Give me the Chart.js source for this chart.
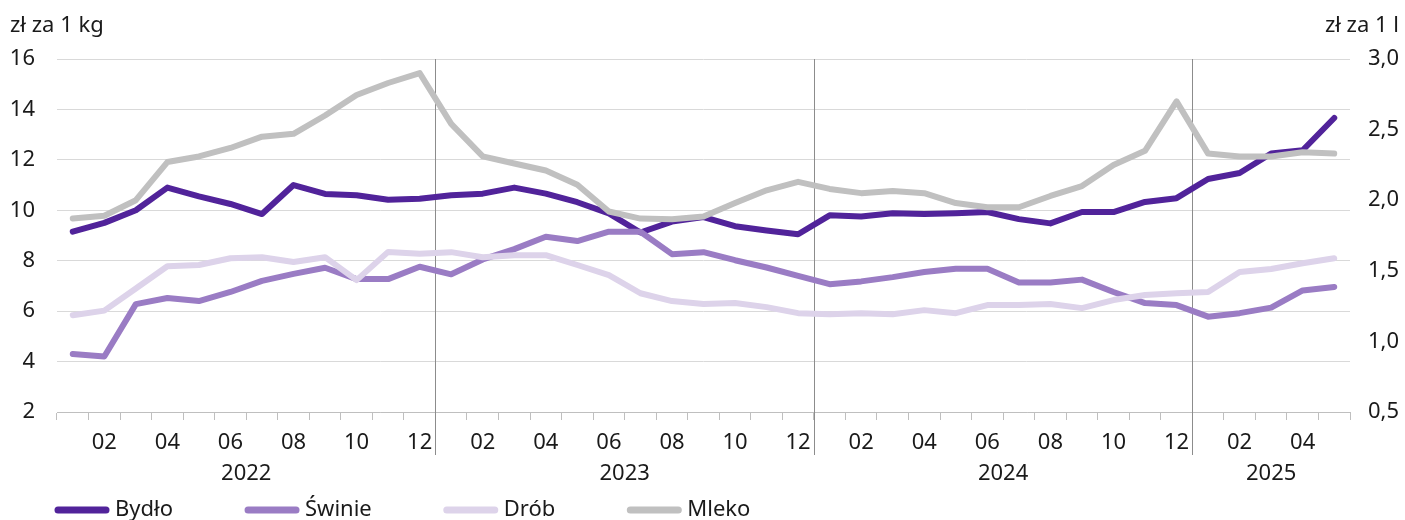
<!DOCTYPE html>
<html>
<head>
<meta charset="utf-8">
<script src="https://cdn.jsdelivr.net/npm/chart.js@4.4.1/dist/chart.umd.min.js"></script>
<style>
  html, body { margin: 0; padding: 0; background: #fff; overflow: hidden; }
  #wrap { position: relative; width: 1405px; height: 520px; }
</style>
</head>
<body>
<div id="wrap"><canvas id="chart"></canvas></div>
<script>
// miesiące 2022-01 .. 2025-05
const periods = [
    '2022-01', '2022-02', '2022-03', '2022-04', '2022-05', '2022-06', '2022-07', '2022-08', '2022-09', '2022-10', '2022-11', '2022-12',
    '2023-01', '2023-02', '2023-03', '2023-04', '2023-05', '2023-06', '2023-07', '2023-08', '2023-09', '2023-10', '2023-11', '2023-12',
    '2024-01', '2024-02', '2024-03', '2024-04', '2024-05', '2024-06', '2024-07', '2024-08', '2024-09', '2024-10', '2024-11', '2024-12',
    '2025-01', '2025-02', '2025-03', '2025-04', '2025-05'
];
const years = ['2022', '2023', '2024', '2025'];

// zł za 1 kg (lewa oś)
const bydlo = [9.15, 9.5, 10.0, 10.9, 10.55, 10.25, 9.85, 11.0, 10.65, 10.6, 10.42, 10.46,
    10.6, 10.66, 10.9, 10.66, 10.32, 9.88, 9.12, 9.55, 9.73, 9.37, 9.2, 9.05,
    9.8, 9.75, 9.88, 9.85, 9.88, 9.93, 9.65, 9.48, 9.93, 9.93, 10.33, 10.48,
    11.24, 11.48, 12.25, 12.38, 13.66];
const swinie = [4.3, 4.2, 6.28, 6.52, 6.4, 6.76, 7.2, 7.48, 7.72, 7.27, 7.27, 7.76,
    7.46, 8.05, 8.46, 8.95, 8.78, 9.15, 9.15, 8.26, 8.34, 8.02, 7.73, 7.4,
    7.07, 7.18, 7.35, 7.55, 7.68, 7.68, 7.14, 7.14, 7.25, 6.76, 6.32, 6.24,
    5.78, 5.92, 6.14, 6.82, 6.96];
const drob = [5.84, 6.02, 6.9, 7.78, 7.83, 8.1, 8.14, 7.95, 8.14, 7.23, 8.35, 8.28,
    8.34, 8.14, 8.22, 8.22, 7.83, 7.43, 6.71, 6.4, 6.28, 6.32, 6.16, 5.92,
    5.88, 5.92, 5.88, 6.04, 5.92, 6.24, 6.24, 6.28, 6.12, 6.44, 6.64, 6.71,
    6.76, 7.55, 7.67, 7.9, 8.1];
// zł za 1 l (prawa oś)
const mleko = [1.87, 1.89, 2.0, 2.27, 2.31, 2.37, 2.45, 2.47, 2.6, 2.745, 2.83, 2.9,
    2.54, 2.31, 2.26, 2.21, 2.11, 1.92, 1.87, 1.865, 1.885, 1.98, 2.07, 2.13,
    2.08, 2.05, 2.065, 2.05, 1.98, 1.95, 1.95, 2.03, 2.1, 2.25, 2.35, 2.7,
    2.33, 2.31, 2.31, 2.34, 2.33];

const FONT = '"Noto Sans", sans-serif';
const TEXT = '#1a1a1a';

function line (label, data, color, order, axis) {
    return {
        label: label,
        data: data,
        borderColor: color,
        backgroundColor: color,
        borderWidth: 6,
        borderCapStyle: 'round',
        borderJoinStyle: 'round',
        pointRadius: 0,
        tension: 0,
        order: order,
        yAxisID: axis
    };
}

const extras = {
    id: 'extras',
    beforeDatasetsDraw (chart) {
        const ctx = chart.ctx;
        const x = chart.scales.x;
        const area = chart.chartArea;
        ctx.save();
        ctx.strokeStyle = '#8c8c8c';
        ctx.lineWidth = 1;
        periods.forEach((p, i) => {
            if (i > 0 && p.slice(5) === '01') {
                const px = Math.round((x.getPixelForValue(i - 1) + x.getPixelForValue(i)) / 2) + 0.5;
                ctx.beginPath();
                ctx.moveTo(px, area.top);
                ctx.lineTo(px, area.bottom + 43);
                ctx.stroke();
            }
        });
        ctx.restore();
    },
    afterDraw (chart) {
        const ctx = chart.ctx;
        const x = chart.scales.x;
        const area = chart.chartArea;
        ctx.save();
        ctx.fillStyle = TEXT;
        ctx.font = '22px ' + FONT;
        ctx.textBaseline = 'middle';

        // tytuły osi
        ctx.textAlign = 'left';
        ctx.fillText('zł za 1 kg', 10, 26);
        ctx.textAlign = 'right';
        ctx.fillText('zł za 1 l', 1399, 26);

        // lata pod miesiącami
        ctx.textAlign = 'center';
        years.forEach(year => {
            const idx = periods.map((p, i) => p.startsWith(year) ? i : -1).filter(i => i >= 0);
            const cx = (x.getPixelForValue(idx[0]) + x.getPixelForValue(idx[idx.length - 1])) / 2;
            ctx.fillText(year, cx, area.bottom + 62);
        });

        // legenda
        let lx = 55;
        const ly = 510;
        ctx.textAlign = 'left';
        chart.data.datasets.forEach(ds => {
            ctx.strokeStyle = ds.borderColor;
            ctx.lineWidth = 7;
            ctx.lineCap = 'round';
            ctx.beginPath();
            ctx.moveTo(lx + 3, ly);
            ctx.lineTo(lx + 51, ly);
            ctx.stroke();
            ctx.fillStyle = TEXT;
            ctx.fillText(ds.label, lx + 60, ly);
            lx += 60 + ctx.measureText(ds.label).width + 72;
        });
        ctx.restore();
    }
};

const canvas = document.getElementById('chart').getContext('2d');
new Chart(canvas, {
    type: 'line',
    data: {
        labels: periods,
        datasets: [
            line('Bydło', bydlo, '#51239a', 3, 'y'),
            line('Świnie', swinie, '#9a7cc4', 2, 'y'),
            line('Drób', drob, '#ddd3ea', 1, 'y'),
            line('Mleko', mleko, '#c0c0c0', 0, 'y1')
        ]
    },
    options: {
        responsive: true,
        maintainAspectRatio: false,
        animation: false,
        layout: {
            padding: { top: 59, bottom: 0, left: 0, right: 0 }
        },
        plugins: {
            legend: { display: false },
            tooltip: { enabled: false }
        },
        scales: {
            x: {
                offset: true,
                afterFit (scale) { scale.height = 108; },
                grid: {
                    offset: true,
                    drawOnChartArea: false,
                    color: '#bfbfbf',
                    tickLength: 8
                },
                border: { color: '#bfbfbf' },
                ticks: {
                    autoSkip: false,
                    maxRotation: 0,
                    padding: 10,
                    color: TEXT,
                    font: { family: FONT, size: 22 },
                    callback: (value, index) => {
                        const m = periods[index].slice(5);
                        return Number(m) % 2 === 0 ? m : '';
                    }
                }
            },
            y: {
                position: 'left',
                min: 2,
                max: 16,
                afterFit (scale) { scale.width = 57; },
                grid: { color: '#d9d9d9', drawTicks: false },
                border: { display: false },
                ticks: {
                    stepSize: 2,
                    padding: 22,
                    color: TEXT,
                    font: { family: FONT, size: 22 }
                }
            },
            y1: {
                position: 'right',
                min: 0.5,
                max: 3.0,
                afterFit (scale) { scale.width = 55; },
                grid: { display: false, drawTicks: false },
                border: { display: false },
                ticks: {
                    stepSize: 0.5,
                    padding: 18,
                    color: TEXT,
                    font: { family: FONT, size: 22 },
                    callback: v => v.toFixed(1).replace('.', ',')
                }
            }
        }
    },
    plugins: [extras]
});
</script>
</body>
</html>
